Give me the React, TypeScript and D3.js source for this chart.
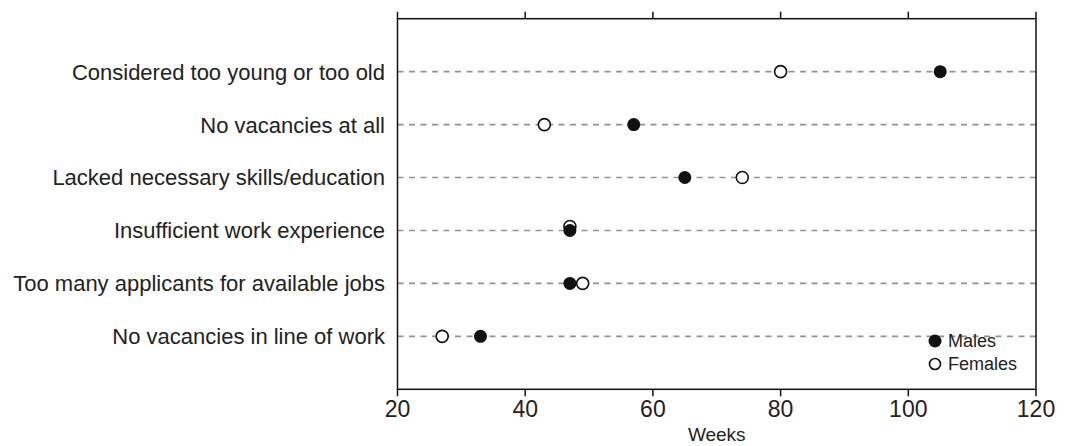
import React, { useEffect } from "react";
import * as d3 from "d3";

const categories = [
  "Considered too young or too old",
  "No vacancies at all",
  "Lacked necessary skills/education",
  "Insufficient work experience",
  "Too many applicants for available jobs",
  "No vacancies in line of work",
];
const males = [105, 57, 65, 47, 47, 33];
const females = [80, 43, 74, 47, 49, 27];
const xTicks = [20, 40, 60, 80, 100, 120];
const xLabel = "Weeks";
const legendItems = ["Males", "Females"];

const W = 1067;
const H = 446;
const M = { left: 397.5, right: 1036, top: 18.7, bottom: 389.3 };
const FONT = "'Liberation Sans', Arial, sans-serif";

export default function App() {
  useEffect(() => {
    document.body.style.margin = "0";
  }, []);
  const x = d3.scaleLinear().domain([20, 120]).range([M.left, M.right]);
  const y = d3.scalePoint<string>().domain(categories).range([M.top, M.bottom]).padding(1);
  const r = 6;
  const tick = 7;
  return (
    <svg width={W} height={H} style={{ display: "block", background: "#fff" }} fontFamily={FONT}>
      {categories.map((c) => (
        <line key={c} x1={M.left} x2={M.right} y1={y(c)} y2={y(c)} stroke="#8e9398" strokeWidth={1.6} strokeDasharray="6,5.5" />
      ))}
      <rect x={M.left} y={M.top} width={M.right - M.left} height={M.bottom - M.top} fill="none" stroke="#111" strokeWidth={1.5} />
      {xTicks.map((t) => (
        <g key={t}>
          <line x1={x(t)} x2={x(t)} y1={M.top} y2={M.top - tick} stroke="#111" strokeWidth={1.5} />
          <line x1={x(t)} x2={x(t)} y1={M.bottom} y2={M.bottom + tick} stroke="#111" strokeWidth={1.5} />
          <text x={x(t)} y={417} textAnchor="middle" fontSize={23} fill="#222">{t}</text>
        </g>
      ))}
      <text x={(M.left + M.right) / 2} y={441} textAnchor="middle" fontSize={19} fill="#222">{xLabel}</text>
      {categories.map((c) => (
        <text key={c} x={385} y={y(c)} dy="0.36em" textAnchor="end" fontSize={22} fill="#222">{c}</text>
      ))}
      {categories.map((c, i) => {
        const tie = Math.abs(males[i] - females[i]) < 1;
        const yy = y(c) as number;
        return (
          <g key={c}>
            <circle cx={x(females[i])} cy={tie ? yy - 4 : yy} r={r} fill="#fff" stroke="#111" strokeWidth={1.6} />
            <circle cx={x(males[i])} cy={yy} r={r + 0.5} fill="#111" />
          </g>
        );
      })}
      {legendItems.map((l, i) => (
        <g key={l} transform={`translate(935, ${341 + i * 23})`}>
          {i === 0 ? (
            <circle r={r + 0.5} fill="#111" />
          ) : (
            <circle r={r - 0.5} fill="#fff" stroke="#111" strokeWidth={1.6} />
          )}
          <text x={13} dy="0.36em" fontSize={18} fill="#222">{l}</text>
        </g>
      ))}
    </svg>
  );
}
